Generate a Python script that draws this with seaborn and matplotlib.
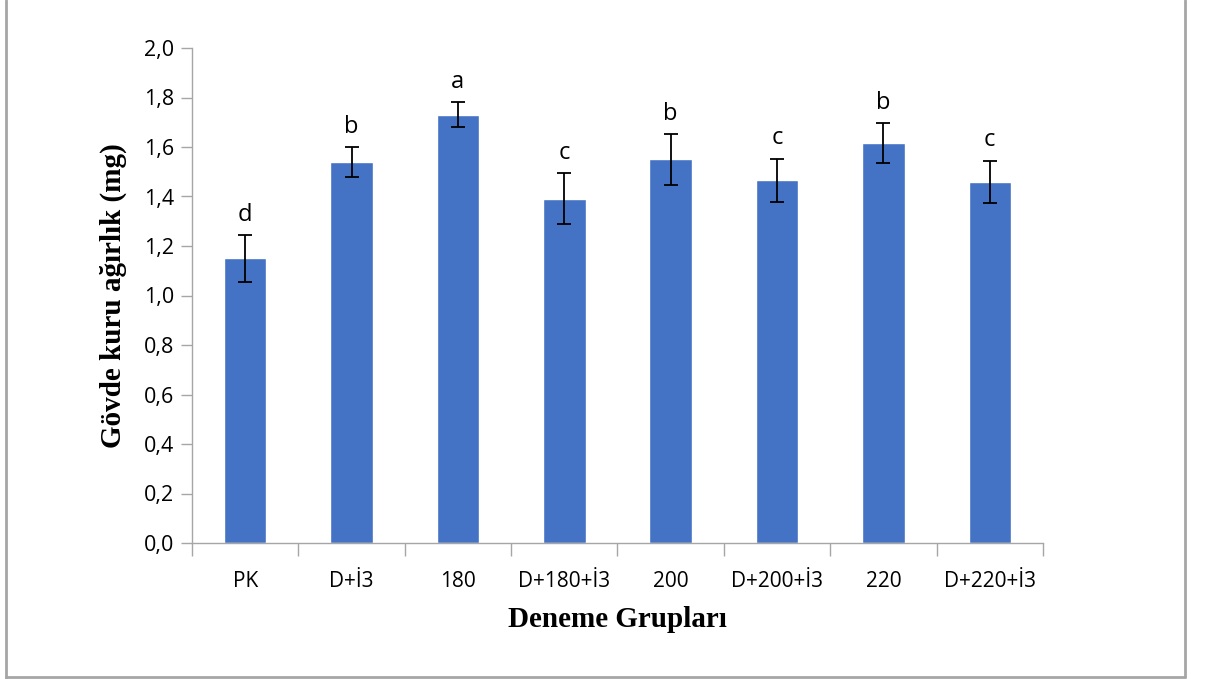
import numpy as np
import pandas as pd
import matplotlib
matplotlib.use("Agg")
import matplotlib.pyplot as plt
import seaborn as sns
from matplotlib.lines import Line2D
from matplotlib.ticker import FuncFormatter, FixedLocator

groups = ["PK", "D+İ3", "180", "D+180+İ3", "200", "D+200+İ3", "220", "D+220+İ3"]
means = [1.15, 1.54, 1.73, 1.39, 1.55, 1.465, 1.615, 1.46]
errs = [0.095, 0.06, 0.05, 0.103, 0.103, 0.088, 0.08, 0.085]
letters = ["d", "b", "a", "c", "b", "c", "b", "c"]

df = pd.DataFrame({"grup": groups, "deger": means})

sns.set_style("white")
plt.rcParams["font.family"] = ["Open Sans", "DejaVu Sans"]
plt.rcParams["text.color"] = "black"
plt.rcParams["axes.labelcolor"] = "black"
plt.rcParams["xtick.labelcolor"] = "black"
plt.rcParams["ytick.labelcolor"] = "black"

fig = plt.figure(figsize=(12.06, 6.79), dpi=100)
ax = fig.add_axes([192 / 1206, 1 - 543 / 679, (1043 - 192) / 1206, (543 - 48) / 679])

sns.barplot(data=df, x="grup", y="deger", color="#4472C4", width=0.4,
            errorbar=None, ax=ax, saturation=1)
ax.errorbar(range(len(groups)), means, yerr=errs, fmt="none", ecolor="black",
            elinewidth=1.3, capsize=5, capthick=1.3)

for i, (m, e, l) in enumerate(zip(means, errs, letters)):
    ax.annotate(l, (i, m + e), xytext=(0, 6), textcoords="offset points",
                ha="center", va="bottom", fontsize=17, color="black")

ax.set_xlim(-0.5, len(groups) - 0.5)
ax.set_ylim(0, 2.0)
ax.set_yticks(np.arange(0, 2.01, 0.2))
ax.yaxis.set_major_formatter(FuncFormatter(lambda v, p: f"{v:.1f}".replace(".", ",")))

ax.xaxis.set_minor_locator(FixedLocator(np.arange(-0.5, len(groups), 1)))
ax.tick_params(axis="x", which="major", length=0, pad=20, labelsize=15, labelcolor="black")
ax.tick_params(axis="x", which="minor", length=9, width=1, color="#A6A6A6", direction="out")
ax.tick_params(axis="y", length=8, width=1, color="#A6A6A6", direction="out", labelsize=15.5, pad=5,
               labelcolor="black")
ax.tick_params(axis="x", bottom=True, which="both")
ax.tick_params(axis="y", left=True)

for s in ["top", "right"]:
    ax.spines[s].set_visible(False)
for s in ["left", "bottom"]:
    ax.spines[s].set_color("#A6A6A6")
    ax.spines[s].set_linewidth(1)

ax.set_xlabel("Deneme Grupları", family="Liberation Serif", fontweight="bold", fontsize=21, labelpad=10,
              color="black")
ax.set_ylabel("Gövde kuru ağırlık (mg)", family="Liberation Serif", fontweight="bold", fontsize=21, labelpad=12,
              color="black")

# outer frame
col = "#A6A6A6"
fig.add_artist(Line2D([6 / 1206, 6 / 1206], [0, 1], color=col, lw=2, transform=fig.transFigure))
fig.add_artist(Line2D([1185 / 1206, 1185 / 1206], [2 / 679, 1], color=col, lw=2, transform=fig.transFigure))
fig.add_artist(Line2D([6 / 1206, 1185 / 1206], [2 / 679, 2 / 679], color=col, lw=2, transform=fig.transFigure))

fig.savefig("out.png", dpi=100)
